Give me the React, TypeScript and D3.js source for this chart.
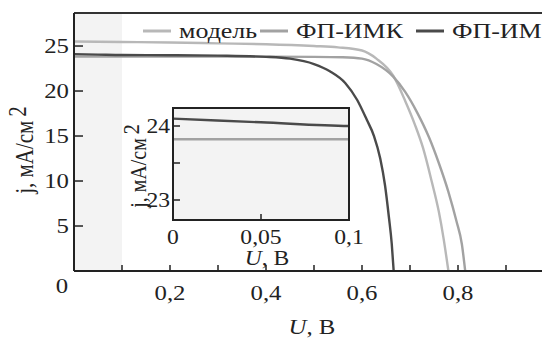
import * as d3 from "d3";

// series: voltage U (V) and current density j (mA/cm2)
const modelU = [0, 0.1, 0.2, 0.3, 0.4, 0.5, 0.55, 0.6, 0.63, 0.665, 0.69, 0.71, 0.727, 0.745, 0.76, 0.77, 0.78];
const modelJ = [25.5, 25.45, 25.4, 25.3, 25.2, 25.0, 24.85, 24.5, 23.6, 21.7, 18.9, 16.3, 13.7, 10.0, 6.6, 3.6, 0];

const imkU = [0, 0.1, 0.2, 0.3, 0.4, 0.5, 0.56, 0.6, 0.63, 0.665, 0.69, 0.715, 0.74, 0.76, 0.78, 0.797, 0.808, 0.815];
const imkJ = [23.82, 23.82, 23.82, 23.82, 23.82, 23.8, 23.75, 23.6, 23.0, 21.6, 19.9, 17.6, 14.8, 12.0, 8.8, 5.5, 3.0, 0];

const imU = [0, 0.05, 0.1, 0.2, 0.3, 0.4, 0.45, 0.5, 0.533, 0.565, 0.59, 0.61, 0.625, 0.638, 0.648, 0.656, 0.662, 0.666];
const imJ = [24.1, 24.05, 24.0, 23.98, 23.93, 23.8, 23.6, 23.0, 22.2, 20.9, 19.0, 16.8, 15.0, 12.5, 9.5, 6.0, 3.0, 0];

const seriesNames = ["модель", "ФП-ИМК", "ФП-ИМ"];
const seriesColors = ["#b8b8b8", "#a2a2a2", "#4a4a4a"];

const xTicks = [0, 0.1, 0.2, 0.3, 0.4, 0.5, 0.6, 0.7, 0.8, 0.9];
const xTickLabels = ["", "", "0,2", "", "0,4", "", "0,6", "", "0,8", ""];
const yTicks = [5, 10, 15, 20, 25];

const insetXTicks = [0, 0.05, 0.1];
const insetXTickLabels = ["0", "0,05", "0,1"];
const insetYTicks = [23, 23.5, 24];
const insetYTickLabels = ["23", "", "24"];

const W = 542;
const H = 338;
const FONT = "Liberation Serif, Tinos, Times New Roman, DejaVu Serif, serif";
const SX = 1.18; // the source picture is a bit wider than tall

// stretched text
const T = ({ x, y, size, anchor = "start", rotate = false, children }: any) => (
  <g transform={rotate ? `translate(${x},${y}) rotate(-90) scale(1,${SX})` : `translate(${x},${y}) scale(${SX},1)`}>
    <text textAnchor={anchor} fontSize={size} fill="#222">
      {children}
    </text>
  </g>
);

export default function App() {
  const x = d3.scaleLinear().domain([0, 1]).range([74, 554]);
  const y = d3.scaleLinear().domain([0, 28.67]).range([271, 13]);

  const ix = d3.scaleLinear().domain([0, 0.1]).range([173, 349]);
  const iy = d3.scaleLinear().domain([23, 24]).range([200, 126]);

  const all = [
    { u: modelU, j: modelJ },
    { u: imkU, j: imkJ },
    { u: imU, j: imJ },
  ];

  const mainLine = d3
    .line<[number, number]>()
    .x((d) => x(d[0]))
    .y((d) => y(d[1]))
    .curve(d3.curveMonotoneX);
  const insetLine = d3
    .line<[number, number]>()
    .x((d) => ix(d[0]))
    .y((d) => iy(d[1]))
    .curve(d3.curveMonotoneX);

  const pts = (s: { u: number[]; j: number[] }) =>
    s.u.map((u, i) => [u, s.j[i]] as [number, number]);

  const legendX = [143, 260, 416];

  return (
    <svg
      width={W}
      height={H}
      style={{ position: "absolute", left: 0, top: 0, background: "#fff" }}
      fontFamily={FONT}
    >
      <defs>
        <clipPath id="mainClip">
          <rect x={74} y={13} width={W - 74} height={258} />
        </clipPath>
        <clipPath id="insetClip">
          <rect x={173} y={108} width={176} height={112} />
        </clipPath>
      </defs>

      {/* shaded zoom band 0..0.1 V */}
      <rect x={x(0)} y={y(28.67)} width={x(0.1) - x(0)} height={y(0) - y(28.67)} fill="#f3f3f3" />

      {/* curves */}
      <g clipPath="url(#mainClip)">
        {all.map((s, i) => (
          <path key={i} d={mainLine(pts(s)) || ""} fill="none" stroke={seriesColors[i]} strokeWidth={2.4} />
        ))}
      </g>

      {/* frame */}
      <line x1={74} y1={y(28.67)} x2={W} y2={y(28.67)} stroke="#333" strokeWidth={2} />
      <line x1={74} y1={y(0)} x2={W} y2={y(0)} stroke="#222" strokeWidth={2} />
      <line x1={74} y1={y(0)} x2={74} y2={y(28.67)} stroke="#222" strokeWidth={2} />

      {/* x ticks */}
      {xTicks.map((t, i) => (
        <g key={"xt" + i}>
          {i > 0 && <line x1={x(t)} x2={x(t)} y1={y(0)} y2={y(0) - 6} stroke="#222" strokeWidth={1.5} />}
          {xTickLabels[i] && (
            <T x={x(t)} y={300} size={21} anchor="middle">
              {xTickLabels[i]}
            </T>
          )}
        </g>
      ))}
      <T x={62} y={293} size={21} anchor="middle">0</T>

      {/* y ticks */}
      {yTicks.map((t) => (
        <g key={"yt" + t}>
          <line x1={74} x2={83} y1={y(t)} y2={y(t)} stroke="#222" strokeWidth={1.5} />
          <T x={69} y={y(t) + 7} size={21} anchor="end">
            {t}
          </T>
        </g>
      ))}

      {/* axis titles */}
      <T x={312} y={334} size={21} anchor="middle">
        <tspan fontStyle="italic">U</tspan>, В
      </T>
      <T x={33} y={150} size={21} anchor="middle" rotate>
        j, мА/см<tspan dx={4} dy={-6}>2</tspan>
      </T>

      {/* legend */}
      {seriesNames.map((n, i) => (
        <g key={"lg" + i}>
          <line x1={legendX[i]} x2={legendX[i] + 28} y1={31} y2={31} stroke={seriesColors[i]} strokeWidth={3} />
          <T x={legendX[i] + 36} y={38} size={22}>
            {n}
          </T>
        </g>
      ))}

      {/* inset */}
      <rect x={173} y={108} width={176} height={112} fill="#f3f3f3" />
      <g clipPath="url(#insetClip)">
        {all.map((s, i) => (
          <path key={i} d={insetLine(pts(s)) || ""} fill="none" stroke={seriesColors[i]} strokeWidth={2.4} />
        ))}
      </g>
      <rect x={173} y={108} width={176} height={112} fill="none" stroke="#222" strokeWidth={2} />
      {insetXTicks.map((t, i) => (
        <g key={"ixt" + i}>
          {i === 1 && <line x1={ix(t)} x2={ix(t)} y1={220} y2={214} stroke="#222" strokeWidth={1.5} />}
          <T x={ix(t)} y={244} size={20} anchor="middle">
            {insetXTickLabels[i]}
          </T>
        </g>
      ))}
      {insetYTicks.map((t, i) => (
        <g key={"iyt" + i}>
          <line x1={173} x2={180} y1={iy(t)} y2={iy(t)} stroke="#222" strokeWidth={1.5} />
          <T x={170} y={iy(t) + 7} size={20} anchor="end">
            {insetYTickLabels[i]}
          </T>
        </g>
      ))}
      <T x={267} y={265} size={20} anchor="middle">
        <tspan fontStyle="italic">U</tspan>, В
      </T>
      <T x={146} y={166} size={20} anchor="middle" rotate>
        j, мА/см<tspan dx={4} dy={-6}>2</tspan>
      </T>
    </svg>
  );
}
